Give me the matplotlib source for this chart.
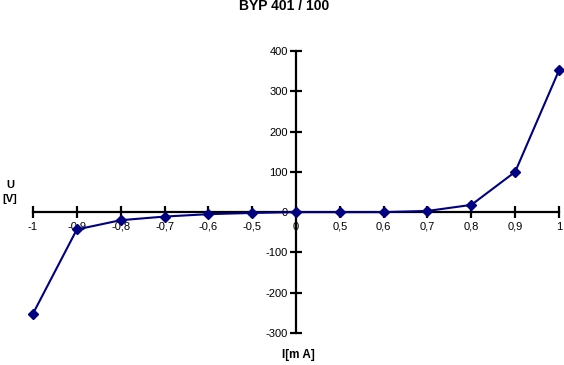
import matplotlib
matplotlib.use("Agg")
import matplotlib.pyplot as plt

plt.rcParams['font.family'] = ['Liberation Sans', 'DejaVu Sans']

categories = ["-1", "-0,9", "-0,8", "-0,7", "-0,6", "-0,5", "0", "0,5", "0,6", "0,7", "0,8", "0,9", "1"]
voltage = [-252, -43, -20, -11, -5, -2, 0, 0, 0, 3, 18, 100, 352]
yticks = [-300, -200, -100, 0, 100, 200, 300, 400]

W, H = 564, 365
fig = plt.figure(figsize=(W / 100, H / 100), dpi=100)
ax = fig.add_axes([33 / W, (H - 333) / H, (559 - 33) / W, (333 - 51) / H])
x = list(range(len(categories)))
ax.plot(x, voltage, color="#000080", lw=1.5, marker="D", ms=5.5, zorder=3, clip_on=False)

ax.set_xlim(0, len(categories) - 1)
ax.set_ylim(-300, 400)
for s in ["top", "right"]:
    ax.spines[s].set_visible(False)
ax.spines["left"].set_position(("data", categories.index("0")))
ax.spines["bottom"].set_position(("data", 0))
ax.spines["left"].set_linewidth(1.6)
ax.spines["bottom"].set_linewidth(1.6)
ax.set_xticks(x)
ax.set_xticklabels(categories)
ax.set_yticks(yticks)
ax.set_yticklabels([str(v) for v in yticks])
ax.tick_params(axis="both", direction="inout", length=8, width=1.6, labelsize=8, colors="black")
ax.tick_params(axis="x", pad=3)
ax.tick_params(axis="y", pad=2)
ax.patch.set_alpha(0)

fig.text(284 / W, 1 - 6 / H, "BYP 401 / 100", ha="center", va="center", fontsize=10, fontweight="bold")
fig.text(10 / W, 1 - 192 / H, "U\n[V]", ha="center", va="center", fontsize=8, fontweight="bold", linespacing=1.4)
fig.text(298 / W, 1 - 355 / H, "I[m A]", ha="center", va="center", fontsize=8.5, fontweight="bold")

fig.savefig("out.png", dpi=100)
